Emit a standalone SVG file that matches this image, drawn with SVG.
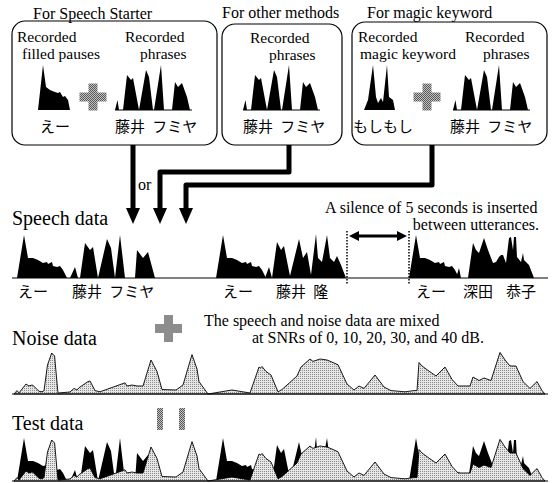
<svg xmlns="http://www.w3.org/2000/svg" xmlns:xlink="http://www.w3.org/1999/xlink" width="552" height="483" viewBox="0 0 552 483">
<style>
.en{font-family:"Liberation Serif","Times New Roman",serif;font-size:16px;fill:#000}
.sm{font-family:"Liberation Serif","Times New Roman",serif;font-size:15.5px;fill:#000}
.big{font-family:"Liberation Serif","Times New Roman",serif;font-size:20px;fill:#000}
.jp{font-family:"Noto Sans CJK JP","Noto Sans",sans-serif;font-size:15px;fill:#000;word-spacing:4px}
.box{fill:none;stroke:#000;stroke-width:1.2}
.wave{fill:#000;stroke:none}
.base{stroke:#000;stroke-width:1;fill:none}
.noise{fill:url(#lt);stroke:#000;stroke-width:0.9;stroke-linejoin:round}
.conn{fill:none;stroke:#000;stroke-width:5;stroke-linejoin:round}
</style>
<defs>
<pattern id="lt" width="2" height="2" patternUnits="userSpaceOnUse"><rect width="2" height="2" fill="#e6e6e6"/><rect width="1" height="1" fill="#8c8c8c"/></pattern>
<pattern id="dk" width="2" height="2" patternUnits="userSpaceOnUse"><rect width="2" height="2" fill="#c0c0c0"/><rect width="1" height="1" fill="#5a5a5a"/><rect x="1" y="1" width="1" height="1" fill="#5a5a5a"/></pattern>
<path id="plus" d="M-4.5,-13.5 h9 v9 h9 v9 h-9 v9 h-9 v-9 h-9 v-9 h9 z" fill="url(#dk)"/>
<g id="bphr"><path class="wave" d="M0,0 L2.5,-10 L4,0 L8,0 L12,-35 L16,-30 L18,-32 L24,0 L31,-40 L34,-33 L38,0 L39,0 L46,-45 L49,0 L57,0 L60,-28 L63,-23 L67,-27 L72,-13 L75,0 Z"/><path class="base" d="M0,0 H77"/></g>
<path id="sfp" class="wave" d="M0,0 L7,-43 L11,-20 L16,-20 L21,-18 L26,-15 L30,-16 L31,-14 L35,-16 L36,-12 L40,-11 L43,-12 L46,-8 L50,0 Z"/>
<g id="speechwave">
<use xlink:href="#sfp" transform="translate(17,278)"/>
<path class="wave" transform="translate(70,278)" d="M0,0 L5,-11 L8,0 L10,0 L15,-35 L20,-28 L23,-31 L28,0 L37,-39 L41,-30 L45,0 L50,-43 L55,0 L65,0 L67,-28 L73,-20 L78,-26 L85,0 Z"/>
<use xlink:href="#sfp" transform="translate(216,278)"/>
<path class="wave" d="M265,278 L269,267 L272,278 L277,242 L281,250 L284,246 L290,276 L299,239 L303,258 L307,252 L311,275 L316,234 L318,258 L322,262 L327,235 L330,258 L334,262 L337,256 L341,265 L346,278 Z"/>
<use xlink:href="#sfp" transform="translate(409,278)"/>
<path class="wave" d="M456,278 L459,268 L461,278 L468,278 L473,243 L476,250 L479,253 L484,238 L488,250 L493,263 L496,262 L499,257 L501,255 L503,255 L506,263 L509,238 L511,237 L513,250 L514,237 L516,237 L517,257 L521,262 L523,253 L524,260 L529,265 L534,278 Z"/>
</g>
<path id="noisewave" class="noise" d="M14,394 L17,390.6 L19,392.9 L26,384 L29,386 L32,385 L33,385.4 L39,391.3 L42,391.8 L44,390.6 L47.5,365 L51.7,353 L54.6,356 L57,383 L58,393 L70,392 L74,388.4 L77,390 L79,387.7 L88,381.6 L90,381 L95,390.6 L100,391.8 L125,382.8 L127,386 L132,385 L137,386 L143,386 L151,360 L157,371.5 L162,389.5 L176,390 L183,385 L192,354.6 L197,369 L199,381.6 L208,394 L232,390 L250,393 L259,367 L260.5,368 L262,366.5 L266,371.5 L271,375 L278,391.8 L282,389.5 L297,376 L301,367 L310,359 L313,361.4 L320,359 L327,360 L333,362.5 L338,364.8 L347,384 L354,390 L359,386 L364,388.4 L375,375 L384,387 L391,390.6 L405,391.8 L414,390.6 L417,390.6 L419,362.5 L422,366 L428,370.4 L436,376 L445,367 L452,379.4 L458,386 L470,386 L473,377 L479,380.5 L484,378 L491,380.5 L500,352.4 L505,360 L510,366 L516,366 L523,381.6 L530,388.4 L537,381.6 L542,390.6 L545,394 Z"/>
</defs>

<g id="box-speech-starter">
<rect class="box" x="12" y="21" width="205" height="124" rx="13"/>
<text class="en" x="33" y="19">For Speech Starter</text>
<text class="sm" x="17" y="42">Recorded</text>
<text class="sm" x="22" y="59">filled pauses</text>
<text class="sm" x="125" y="42">Recorded</text>
<text class="sm" x="140" y="59">phrases</text>
<path class="wave" d="M38,110 L43,65 L46,87 L50,90 L55,92 L58,93 L60,92 L63,97 L65,96 L68,100 L70,110 Z"/>
<use xlink:href="#plus" x="93" y="97"/>
<use xlink:href="#bphr" transform="translate(115,110)"/>
<text class="jp" x="40" y="132">えー</text>
<text class="jp" x="115" y="132">藤井 フミヤ</text>
</g>

<g id="box-other-methods">
<rect class="box" x="222" y="24" width="120" height="121" rx="13"/>
<text class="en" x="222" y="18">For other methods</text>
<text class="sm" x="250" y="43">Recorded</text>
<text class="sm" x="269" y="60">phrases</text>
<use xlink:href="#bphr" transform="translate(243,110)"/>
<text class="jp" x="243" y="132">藤井 フミヤ</text>
</g>

<g id="box-magic-keyword">
<rect class="box" x="352" y="22" width="195" height="123" rx="13"/>
<text class="en" x="367" y="18">For magic keyword</text>
<text class="sm" x="358" y="42">Recorded</text>
<text class="sm" x="360" y="59">magic keyword</text>
<text class="sm" x="465" y="42">Recorded</text>
<text class="sm" x="483" y="59">phrases</text>
<path class="wave" d="M364,110 L368,100 L373,65 L376,97 L378,103 L381,98 L383,102 L387,65 L389,97 L393,100 L395,110 Z"/>
<use xlink:href="#plus" x="427" y="97"/>
<use xlink:href="#bphr" transform="translate(453,110)"/>
<text class="jp" x="353" y="132">もしもし</text>
<text class="jp" x="450" y="132">藤井 フミヤ</text>
</g>

<g id="connectors">
<path class="conn" d="M133,145 V210"/>
<path class="conn" d="M289,145 V172 H160 V210"/>
<path class="conn" d="M432,145 V185 H186 V210"/>
<path d="M126,208 H140 L133,224 Z M153,208 H167 L160,224 Z M179,208 H193 L186,224 Z" fill="#000"/>
<text class="en" x="138" y="190">or</text>
</g>

<g id="speech-data">
<text class="big" x="12" y="225">Speech data</text>
<use xlink:href="#speechwave"/>
<path class="base" d="M12,278 H548"/>
<text class="jp" x="18" y="297">えー</text>
<text class="jp" x="72" y="297">藤井 フミヤ</text>
<text class="jp" x="223" y="297">えー</text>
<text class="jp" x="276" y="297">藤井 隆</text>
<text class="jp" x="416" y="297">えー</text>
<text class="jp" x="463" y="297">深田<tspan x="506">恭子</tspan></text>
</g>

<g id="silence-note">
<path d="M347,231 V284 M409,231 V284" stroke="#000" stroke-width="1.5" stroke-dasharray="1.5,1.5" fill="none"/>
<path d="M356,236 H400" stroke="#000" stroke-width="3"/>
<path d="M349,236 L359,231 L359,241 Z M407,236 L397,231 L397,241 Z" fill="#000"/>
<text class="en" x="325" y="213">A silence of 5 seconds is inserted</text>
<text class="en" x="539" y="230" text-anchor="end">between utterances.</text>
</g>

<g id="noise-data">
<text class="big" x="12" y="345">Noise data</text>
<use xlink:href="#plus" x="168.5" y="328.5"/>
<text class="en" x="204" y="326">The speech and noise data are mixed</text>
<text class="en" x="252" y="343">at SNRs of 0, 10, 20, 30, and 40 dB.</text>
<use xlink:href="#noisewave"/>
<path class="base" d="M12,394 H548"/>
</g>

<g id="test-data">
<text class="big" x="12" y="430">Test data</text>
<rect x="157" y="408" width="6" height="22" fill="url(#dk)"/>
<rect x="179" y="408" width="6" height="22" fill="url(#dk)"/>
<use xlink:href="#speechwave" transform="translate(0,203)"/>
<use xlink:href="#noisewave" transform="translate(0,87)"/>
<path class="base" d="M12,481 H548"/>
</g>
</svg>
